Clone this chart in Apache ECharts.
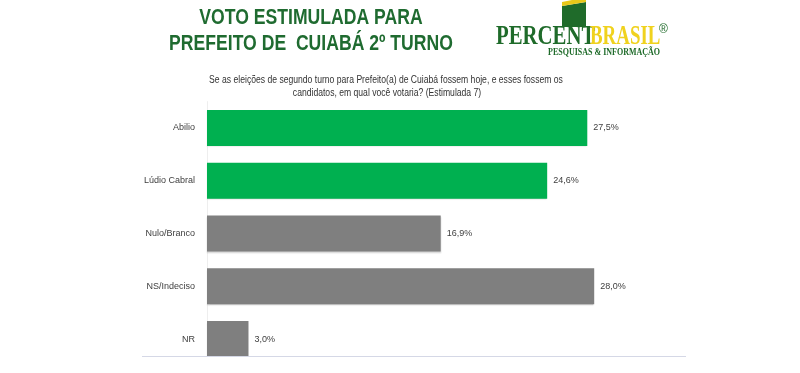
<!DOCTYPE html>
<html>
<head>
<meta charset="utf-8">
<script src="https://cdn.jsdelivr.net/npm/echarts@6/dist/echarts.min.js"></script>
<style>
html,body{margin:0;padding:0;background:#fff;}
#c{width:800px;height:373px;}
</style>
</head>
<body>
<div id="c"></div>
<script>
var categories = ['Abilio', 'Lúdio Cabral', 'Nulo/Branco', 'NS/Indeciso', 'NR'];
var values = [27.5, 24.6, 16.9, 28.0, 3.0];
var barColors = ['#00b050', '#00b050', '#7f7f7f', '#7f7f7f', '#7f7f7f'];
var titleLines = ['VOTO ESTIMULADA PARA', 'PREFEITO DE  CUIABÁ 2º TURNO'];
var subtitleLines = ['Se as eleições de segundo turno para Prefeito(a) de Cuiabá fossem hoje, e esses fossem os', 'candidatos, em qual você votaria? (Estimulada 7)'];

var sans = "'Liberation Sans',Arial,sans-serif";
var serif = "'Liberation Serif','DejaVu Serif',serif";
var chart = echarts.init(document.getElementById('c'));

function ctext(str, x, y, font, fill, sx) {
  return {type: 'text', x: x, y: y, scaleX: sx, style: {text: str, font: font, fill: fill, align: 'center', verticalAlign: 'middle'}};
}

chart.setOption({
  animation: false,
  backgroundColor: '#fff',
  grid: {left: 207, right: 109, top: 101.6, bottom: 7.6, containLabel: false},
  xAxis: {
    type: 'value', min: 0, max: 35,
    axisLine: {show: false}, axisTick: {show: false}, axisLabel: {show: false}, splitLine: {show: false}
  },
  yAxis: {
    type: 'category', data: categories, inverse: true,
    axisLine: {show: true, lineStyle: {color: '#eeeeee', width: 1}},
    axisTick: {show: false},
    axisLabel: {margin: 12, fontFamily: sans, fontSize: 9, color: '#404040'}
  },
  series: [{
    type: 'bar', barWidth: 36,
    data: values.map(function (v, i) {
      return {value: v, itemStyle: {color: barColors[i], shadowColor: 'rgba(0,0,0,0.18)', shadowOffsetY: 1.5, shadowBlur: 1.5}};
    }),
    label: {
      show: true, position: 'right', distance: 6,
      fontFamily: sans, fontSize: 9, color: '#404040',
      formatter: function (p) { return p.value.toFixed(1).replace('.', ',') + '%'; }
    }
  }],
  graphic: [
    ctext(titleLines[0], 311, 18, "bold 22px " + sans, '#1f6b30', 0.8),
    ctext(titleLines[1], 311, 44, "bold 22px " + sans, '#1f6b30', 0.8),
    ctext(subtitleLines[0], 386, 80, "10px " + sans, '#333333', 0.86),
    ctext(subtitleLines[1], 387, 93, "10px " + sans, '#333333', 0.86),
    {type: 'rect', shape: {x: 142, y: 356, width: 544, height: 10}, style: {fill: '#fff'}, z: 9},
    {type: 'line', shape: {x1: 142, y1: 356.5, x2: 686, y2: 356.5}, style: {stroke: '#d5d8e6', lineWidth: 1}, z: 10},
    // logo flag
    {type: 'polygon', shape: {points: [[562, 6], [574, 4], [586, 2], [586, 27], [562, 27]]}, style: {fill: '#1f6b2a'}},
    {type: 'polygon', shape: {points: [[562, 2], [572, 0], [586, 0], [586, 2], [574, 4], [562, 6]]}, style: {fill: '#e8c81a'}},
    {type: 'text', x: 496, y: 37, scaleX: 0.77, style: {text: 'PERCENT', font: "bold 27px " + serif, fill: '#1f6b2a', verticalAlign: 'middle'}},
    {type: 'text', x: 590, y: 37, scaleX: 0.7, style: {text: 'BRASIL', font: "bold 27px " + serif, fill: '#f0d21e', verticalAlign: 'middle'}},
    {type: 'text', x: 659, y: 24, style: {text: '®', font: "12px " + sans, fill: '#1f6b2a'}},
    {type: 'text', x: 548, y: 52, scaleX: 0.8, style: {text: 'PESQUISAS & INFORMAÇÃO', font: "bold 10px " + serif, fill: '#1f6b2a', verticalAlign: 'middle'}}
  ]
});
</script>
</body>
</html>
